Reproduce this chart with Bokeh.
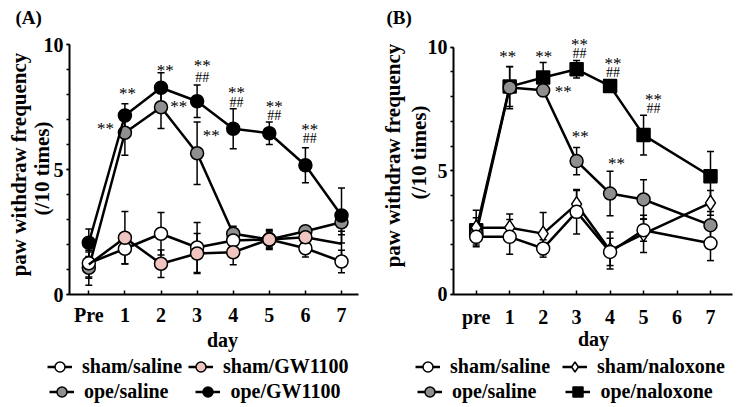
import numpy as np
from bokeh.plotting import figure
from bokeh.layouts import row
from bokeh.models import (Range1d, FixedTicker, Whisker, ColumnDataSource, Label,
                          Legend, LegendItem, TeeHead)
from bokeh.core.properties import value
from bokeh.embed import file_html
from bokeh.resources import INLINE

FONT = "Liberation Serif"

# ---------------- Panel A data ----------------
days_a = [0, 1, 2, 3, 4, 5, 6, 7]
tick_labels_a = ["Pre", "1", "2", "3", "4", "5", "6", "7"]
a_sham_saline = [1.25, 1.83, 2.43, 1.88, 2.16, 2.2, 1.85, 1.32]
a_sham_saline_err = [0.6, 0.6, 0.85, 1.0, 0.4, 0.35, 0.35, 0.45]
a_sham_gw = [1.2, 2.27, 1.23, 1.64, 1.69, 2.2, 2.29, 2.03]
a_sham_gw_err = [0.5, 1.05, 0.55, 0.8, 0.5, 0.4, 0.3, 0.5]
a_sham_gw_marker_days = [1, 2, 3, 4, 5, 6]
a_ope_saline = [1.07, 6.47, 7.49, 5.65, 2.43, 2.2, 2.53, 2.89]
a_ope_saline_err = [0.7, 0.9, 0.85, 1.25, 0.3, 0.3, 0.2, 0.5]
a_ope_gw = [2.07, 7.16, 8.27, 7.73, 6.63, 6.45, 5.17, 3.16]
a_ope_gw_err = [0.55, 0.47, 0.6, 0.65, 0.8, 0.45, 0.7, 1.1]
ann_a_x = [1.07, 0.46, 2.12, 2.49, 3.14, 3.14, 3.39, 4.09, 4.09, 5.14, 5.14, 6.12, 6.12]
ann_a_y = [8.04, 6.64, 8.96, 7.52, 9.16, 8.67, 6.36, 8.09, 7.69, 7.52, 7.16, 6.6, 6.23]
ann_a_t = ["**", "**", "**", "**", "**", "##", "**", "**", "##", "**", "##", "**", "##"]

# ---------------- Panel B data ----------------
ticks_b = [0, 1, 2, 3, 4, 5, 6, 7]
tick_labels_b = ["pre", "1", "2", "3", "4", "5", "6", "7"]
days_b = [0, 1, 2, 3, 4, 5, 7]
b_sham_saline = [2.33, 2.33, 1.86, 3.34, 1.72, 2.6, 2.07]
b_sham_saline_err = [0.4, 0.7, 0.35, 0.9, 0.55, 0.45, 0.7]
b_sham_nal = [2.7, 2.7, 2.46, 3.65, 1.78, 2.45, 3.7]
b_sham_nal_err = [0.7, 0.55, 0.85, 0.55, 0.75, 0.75, 0.5]
b_ope_saline = [2.45, 8.36, 8.25, 5.39, 4.08, 3.84, 2.8]
b_ope_saline_err = [0.35, 0.85, 0.25, 0.55, 0.9, 0.8, 0.55]
b_ope_nal = [2.6, 8.4, 8.77, 9.1, 8.42, 6.44, 4.78]
b_ope_nal_err = [0.5, 0.8, 0.6, 0.35, 0.2, 0.8, 1.0]
ann_b_x = [0.94, 2.02, 2.6, 3.09, 3.09, 4.09, 4.09, 5.3, 5.3, 3.11, 4.19]
ann_b_y = [9.6, 9.63, 8.19, 10.11, 9.74, 9.33, 8.95, 7.88, 7.52, 6.37, 5.29]
ann_b_t = ["**", "**", "**", "**", "##", "**", "##", "**", "##", "**", "**"]

GRAY = "#8f8f8f"
PINK = "#f0c4bf"
H = 405


def make_fig(width, x_range, y_range, x_lo, x_hi, ticks, labels, label_standoff):
    p = figure(width=width, height=H, output_backend="svg", toolbar_location=None,
               title=None, x_range=Range1d(*x_range), y_range=Range1d(*y_range),
               min_border=0, min_border_left=0, min_border_right=0,
               min_border_top=0, min_border_bottom=0)
    p.outline_line_color = None
    p.xgrid.visible = False
    p.ygrid.visible = False
    p.background_fill_color = "white"
    p.border_fill_color = "white"
    xa = p.xaxis[0]
    xa.fixed_location = 0
    xa.bounds = (x_lo, x_hi)
    xa.ticker = FixedTicker(ticks=ticks, minor_ticks=[])
    xa.major_label_overrides = {t: l for t, l in zip(ticks, labels)}
    xa.major_tick_in = 4
    xa.major_tick_out = 0
    xa.minor_tick_in = 0
    xa.minor_tick_out = 0
    xa.major_label_standoff = label_standoff
    ya = p.yaxis[0]
    ya.fixed_location = x_lo
    ya.bounds = (0, 10)
    ya.ticker = FixedTicker(ticks=[0, 5, 10], minor_ticks=list(range(0, 11)))
    ya.major_tick_in = 0
    ya.major_tick_out = 3
    ya.minor_tick_in = 0
    ya.minor_tick_out = 3
    ya.major_label_standoff = 3
    for ax in (xa, ya):
        ax.axis_line_width = 2
        ax.major_tick_line_width = 1.5
        ax.minor_tick_line_width = 1.5
        ax.major_label_text_font = FONT
        ax.major_label_text_font_style = "bold"
        ax.major_label_text_font_size = "20px"
        ax.major_label_text_color = "black"
        ax.axis_line_color = "black"
        ax.major_tick_line_color = "black"
        ax.minor_tick_line_color = "black"
    return p


def add_series(p, x, y, err, marker, fill, size, marker_x=None):
    lo = [a - e for a, e in zip(y, err)]
    hi = [a + e for a, e in zip(y, err)]
    src = ColumnDataSource(dict(x=x, lower=lo, upper=hi))
    w = Whisker(source=src, base="x", lower="lower", upper="upper", dimension="height",
                line_width=1.5, line_color="black",
                upper_head=TeeHead(size=7, line_width=1.5, line_color="black"),
                lower_head=TeeHead(size=7, line_width=1.5, line_color="black"))
    p.add_layout(w)
    lr = p.line(x, y, line_width=2.5, line_color="black")
    if marker_x is None:
        mx, my = x, y
    else:
        mx = [d for d in x if d in marker_x]
        my = [v for d, v in zip(x, y) if d in marker_x]
    mr = p.scatter(mx, my, marker=marker, size=size, fill_color=fill,
                   line_color="black", line_width=1.5)
    return lr, mr


def add_text(p, xs, ys, ts):
    sizes = ["17px" if t == "**" else "14px" for t in ts]
    src = ColumnDataSource(dict(x=xs, y=ys, t=ts, s=sizes))
    p.text("x", "y", text="t", source=src, text_font=value(FONT), text_font_size="s",
           text_align="center", text_baseline="middle", text_color="black")


def add_label(p, left, px, py, text, size="20px", angle=0.0, align="left"):
    # px, py: pixel position in the picture; converted to frame-relative screen units
    p.add_layout(Label(x=px - left, y=H - py, x_units="screen", y_units="screen",
                       text=text, angle=angle, text_align=align,
                       text_baseline="alphabetic", text_font=FONT,
                       text_font_style="bold", text_font_size=size, text_color="black"))


def add_legend_row(p, left, items, px, pcy, spacing):
    lg = Legend(items=items, location=(px - left, H - (pcy + 12.5)),
                orientation="horizontal", spacing=spacing,
                padding=0, margin=0, border_line_color=None, background_fill_alpha=0,
                glyph_width=25, glyph_height=25, label_standoff=10,
                label_text_font=FONT, label_text_font_style="bold",
                label_text_font_size="20px", label_text_color="black")
    p.add_layout(lg)


# ---------------- Panel A ----------------
LA = 0
pA = make_fig(370, (-2.446, 7.803), (-4.44, 11.76), -0.535, 7.47, days_a, tick_labels_a, 9)
g_a = add_series(pA, days_a, a_ope_saline, a_ope_saline_err, "circle", GRAY, 13)
w_a = add_series(pA, days_a, a_sham_saline, a_sham_saline_err, "circle", "white", 13)
k_a = add_series(pA, days_a, a_sham_gw, a_sham_gw_err, "circle", PINK, 13, a_sham_gw_marker_days)
b_a = add_series(pA, days_a, a_ope_gw, a_ope_gw_err, "circle", "black", 13)
add_text(pA, ann_a_x, ann_a_y, ann_a_t)
add_label(pA, LA, 15, 17, "(A)", size="19px")
add_label(pA, LA, 18, 164, "paw withdraw frequency", size="21px", angle=np.pi / 2, align="center")
add_label(pA, LA, 41, 168, "(/10 times)", size="21px", angle=np.pi / 2, align="center")
add_label(pA, LA, 222, 339, "day", align="center")
add_legend_row(pA, LA, [LegendItem(label="sham/saline", renderers=list(w_a)),
                        LegendItem(label="sham/GW1100", renderers=list(k_a))], 47, 366, 6)
add_legend_row(pA, LA, [LegendItem(label="ope/saline", renderers=list(g_a)),
                        LegendItem(label="ope/GW1100", renderers=list(b_a))], 49, 391, 27)

# ---------------- Panel B ----------------
LB = 370
pB = make_fig(366, (-3.158, 7.777), (-4.485, 11.879), -0.678, 7.648, ticks_b, tick_labels_b, 12)
s_b = add_series(pB, days_b, b_ope_nal, b_ope_nal_err, "square", "black", 13)
g_b = add_series(pB, days_b, b_ope_saline, b_ope_saline_err, "circle", GRAY, 13)
d_b = add_series(pB, days_b, b_sham_nal, b_sham_nal_err, "diamond", "white", 15)
w_b = add_series(pB, days_b, b_sham_saline, b_sham_saline_err, "circle", "white", 13)
add_text(pB, ann_b_x, ann_b_y, ann_b_t)
add_label(pB, LB, 386, 17, "(B)", size="19px")
add_label(pB, LB, 392, 155, "paw withdraw frequency", size="21px", angle=np.pi / 2, align="center")
add_label(pB, LB, 418, 152, "(/10 times)", size="21px", angle=np.pi / 2, align="center")
add_label(pB, LB, 593, 338, "day", align="center")
add_legend_row(pB, LB, [LegendItem(label="sham/saline", renderers=list(w_b)),
                        LegendItem(label="sham/naloxone", renderers=list(d_b))], 415, 366, 12)
add_legend_row(pB, LB, [LegendItem(label="ope/saline", renderers=list(g_b)),
                        LegendItem(label="ope/naloxone", renderers=list(s_b))], 417, 391, 29)

layout = row(pA, pB)
open("out.html", "w").write(file_html(layout, INLINE))
